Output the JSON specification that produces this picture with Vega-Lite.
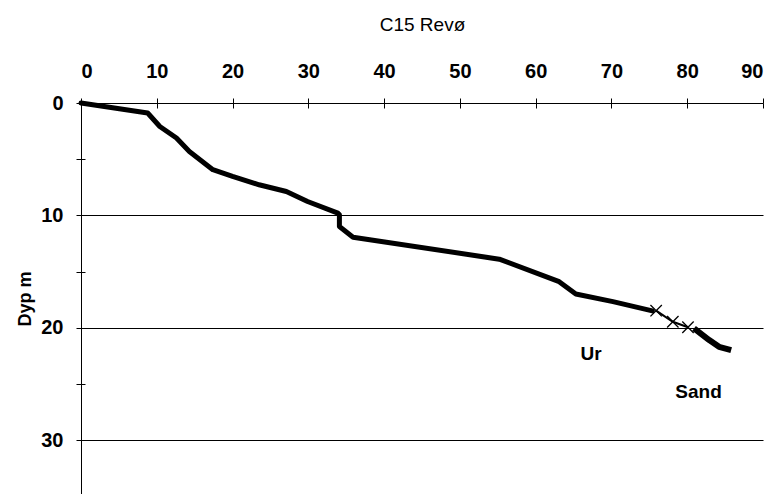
{
  "$schema": "https://vega.github.io/schema/vega-lite/v6.json",
  "width": 682,
  "height": 391,
  "autosize": {"type": "none"},
  "padding": {"left": 81, "top": 103, "right": 11, "bottom": 0},
  "background": "white",
  "config": {
    "view": {"stroke": null},
    "axis": {
      "domainColor": "black",
      "tickColor": "black",
      "labelColor": "black",
      "titleColor": "black",
      "labelFont": "Liberation Sans Narrow, Liberation Sans, Arial",
      "labelFontWeight": "bold",
      "labelFontSize": 20,
      "titleFont": "Liberation Sans, Arial",
      "titleFontWeight": "normal",
      "titleFontSize": 18
    }
  },
  "datasets": {
    "pts": [
      {"series": "main", "x": 0, "depth": 0},
      {"series": "main", "x": 8.8, "depth": 0.89},
      {"series": "main", "x": 10.4, "depth": 2.09},
      {"series": "main", "x": 12.6, "depth": 3.12},
      {"series": "main", "x": 14.3, "depth": 4.31},
      {"series": "main", "x": 17.4, "depth": 5.94},
      {"series": "main", "x": 20.0, "depth": 6.54},
      {"series": "main", "x": 23.5, "depth": 7.28},
      {"series": "main", "x": 27.1, "depth": 7.88},
      {"series": "main", "x": 29.9, "depth": 8.77},
      {"series": "main", "x": 33.9, "depth": 9.8},
      {"series": "main", "x": 34.1, "depth": 9.95},
      {"series": "main", "x": 34.1, "depth": 11.0},
      {"series": "main", "x": 35.9, "depth": 11.94},
      {"series": "main", "x": 55.2, "depth": 13.9},
      {"series": "main", "x": 63.1, "depth": 15.9},
      {"series": "main", "x": 65.3, "depth": 17.0},
      {"series": "main", "x": 70.2, "depth": 17.68},
      {"series": "main", "x": 75.4, "depth": 18.5},
      {"series": "thin", "x": 75.9, "depth": 18.48},
      {"series": "thin", "x": 78.1, "depth": 19.47},
      {"series": "thin", "x": 80.1, "depth": 19.96},
      {"series": "tail", "x": 80.9, "depth": 20.05},
      {"series": "tail", "x": 82.9, "depth": 21.1},
      {"series": "tail", "x": 84.2, "depth": 21.7},
      {"series": "tail", "x": 85.8, "depth": 22.0}
    ],
    "labels": [
      {"label": "Ur", "x": 67.3, "depth": 22.3},
      {"label": "Sand", "x": 81.5, "depth": 25.7}
    ]
  },
  "layer": [
    {
      "data": {"name": "pts"},
      "transform": [{"filter": "datum.series === 'main'"}],
      "mark": {"type": "line", "color": "black", "strokeWidth": 5, "strokeJoin": "round", "strokeCap": "round"},
      "encoding": {
        "x": {
          "field": "x", "type": "quantitative",
          "scale": {"domain": [0, 90], "nice": false, "zero": false},
          "axis": {
            "orient": "top",
            "values": [0, 10, 20, 30, 40, 50, 60, 70, 80, 90],
            "tickSize": 5,
            "labelPadding": 17,
            "grid": false,
            "title": "C15 Revø",
            "titleFontSize": 19,
            "titlePadding": 27
          }
        },
        "y": {
          "field": "depth", "type": "quantitative",
          "scale": {"domain": [0, 34.8], "nice": false, "reverse": true},
          "axis": {
            "orient": "left",
            "values": [0, 5, 10, 15, 20, 25, 30],
            "labelExpr": "datum.value % 10 === 0 ? datum.label : ''",
            "tickSize": 5,
            "labelPadding": 13,
            "grid": true,
            "gridColor": "black",
            "gridWidth": 1,
            "gridOpacity": {"condition": {"test": "datum.value % 10 === 0 && datum.value > 0", "value": 1}, "value": 0},
            "title": "Dyp m",
            "titleFont": "Liberation Sans Narrow, Liberation Sans, Arial",
            "titleFontWeight": "bold",
            "titleFontSize": 18,
            "titlePadding": 6
          }
        },
        "order": {"field": "x", "type": "quantitative"}
      }
    },
    {
      "data": {"name": "pts"},
      "transform": [{"filter": "datum.series === 'thin'"}],
      "mark": {"type": "line", "color": "black", "strokeWidth": 2},
      "encoding": {
        "x": {
          "field": "x", "type": "quantitative",
          "axis": {
            "orient": "bottom",
            "offset": -391,
            "values": [10, 20, 30, 40, 50, 60, 70, 80, 90],
            "tickSize": 5,
            "labels": false,
            "domain": false,
            "grid": false,
            "title": null
          }
        },
        "y": {
          "field": "depth", "type": "quantitative",
          "axis": {
            "orient": "right",
            "offset": -682,
            "values": [5, 15, 25],
            "tickSize": 4,
            "labels": false,
            "domain": false,
            "grid": false,
            "title": null
          }
        }
      }
    },
    {
      "data": {"name": "pts"},
      "transform": [{"filter": "datum.series === 'tail'"}],
      "mark": {"type": "line", "color": "black", "strokeWidth": 6, "strokeJoin": "round"},
      "encoding": {
        "x": {"field": "x", "type": "quantitative", "axis": null},
        "y": {"field": "depth", "type": "quantitative", "axis": null}
      }
    },
    {
      "data": {"name": "pts"},
      "transform": [{"filter": "datum.series === 'thin'"}],
      "mark": {"type": "point", "shape": "M-1,-1L1,1M-1,1L1,-1", "size": 130, "filled": false, "color": "black", "strokeWidth": 1.3, "opacity": 1},
      "encoding": {
        "x": {"field": "x", "type": "quantitative", "axis": null},
        "y": {"field": "depth", "type": "quantitative", "axis": null}
      }
    },
    {
      "data": {"name": "labels"},
      "mark": {"type": "text", "font": "Liberation Sans Narrow, Liberation Sans, Arial", "fontWeight": "bold", "fontSize": 19, "color": "black", "align": "center", "baseline": "middle"},
      "encoding": {
        "x": {"field": "x", "type": "quantitative", "axis": null},
        "y": {"field": "depth", "type": "quantitative", "axis": null},
        "text": {"field": "label"}
      }
    }
  ],
  "resolve": {"axis": {"x": "independent", "y": "independent"}}
}
